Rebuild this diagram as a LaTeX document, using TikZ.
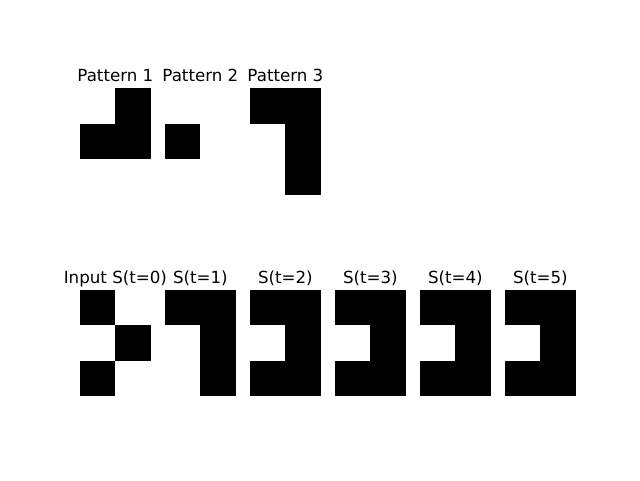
\documentclass[tikz,border=0pt]{standalone}
\usepackage{fontspec}
\setmainfont{DejaVu Sans}
\begin{document}
\begin{tikzpicture}[x=1pt,y=-1pt,
  cellfill/.style={fill=black},
  ttl/.style={anchor=base,inner sep=0pt,font=\fontsize{16.67}{20}\selectfont}]
\useasboundingbox[fill=white] (0,0) rectangle (640,480);
\def\cw{35.4}
% Pattern 1
\foreach \c/\r in {1/0,0/1,1/1}
  \fill[cellfill] ({80+\c*\cw},{88.3+\r*\cw}) rectangle ++(\cw,\cw);
\node[ttl] (p1) at ({80+\cw},81.5) {Pattern 1};
% Pattern 2
\foreach \c/\r in {0/1}
  \fill[cellfill] ({165+\c*\cw},{88.3+\r*\cw}) rectangle ++(\cw,\cw);
\node[ttl] (p2) at ({165+\cw},81.5) {Pattern 2};
% Pattern 3
\foreach \c/\r in {0/0,1/0,1/1,1/2}
  \fill[cellfill] ({250+\c*\cw},{88.3+\r*\cw}) rectangle ++(\cw,\cw);
\node[ttl] (p3) at ({250+\cw},81.5) {Pattern 3};
% Input
\foreach \c/\r in {0/0,1/1,0/2}
  \fill[cellfill] ({80+\c*\cw},{290+\r*\cw}) rectangle ++(\cw,\cw);
\node[ttl] (s0) at ({80+\cw},283.2) {Input S(t=0)};
% S1
\foreach \c/\r in {0/0,1/0,1/1,1/2}
  \fill[cellfill] ({165+\c*\cw},{290+\r*\cw}) rectangle ++(\cw,\cw);
\node[ttl] (s1) at ({165+\cw},283.2) {S(t=1)};
% S2..S5
\foreach \x/\t in {250/2,335/3,420/4,505/5}{
  \foreach \c/\r in {0/0,1/0,1/1,0/2,1/2}
    \fill[cellfill] ({\x+\c*\cw},{290+\r*\cw}) rectangle ++(\cw,\cw);
  \node[ttl] (s\t) at ({\x+\cw},283.2) {S(t=\t)};
}
\end{tikzpicture}
\end{document}
